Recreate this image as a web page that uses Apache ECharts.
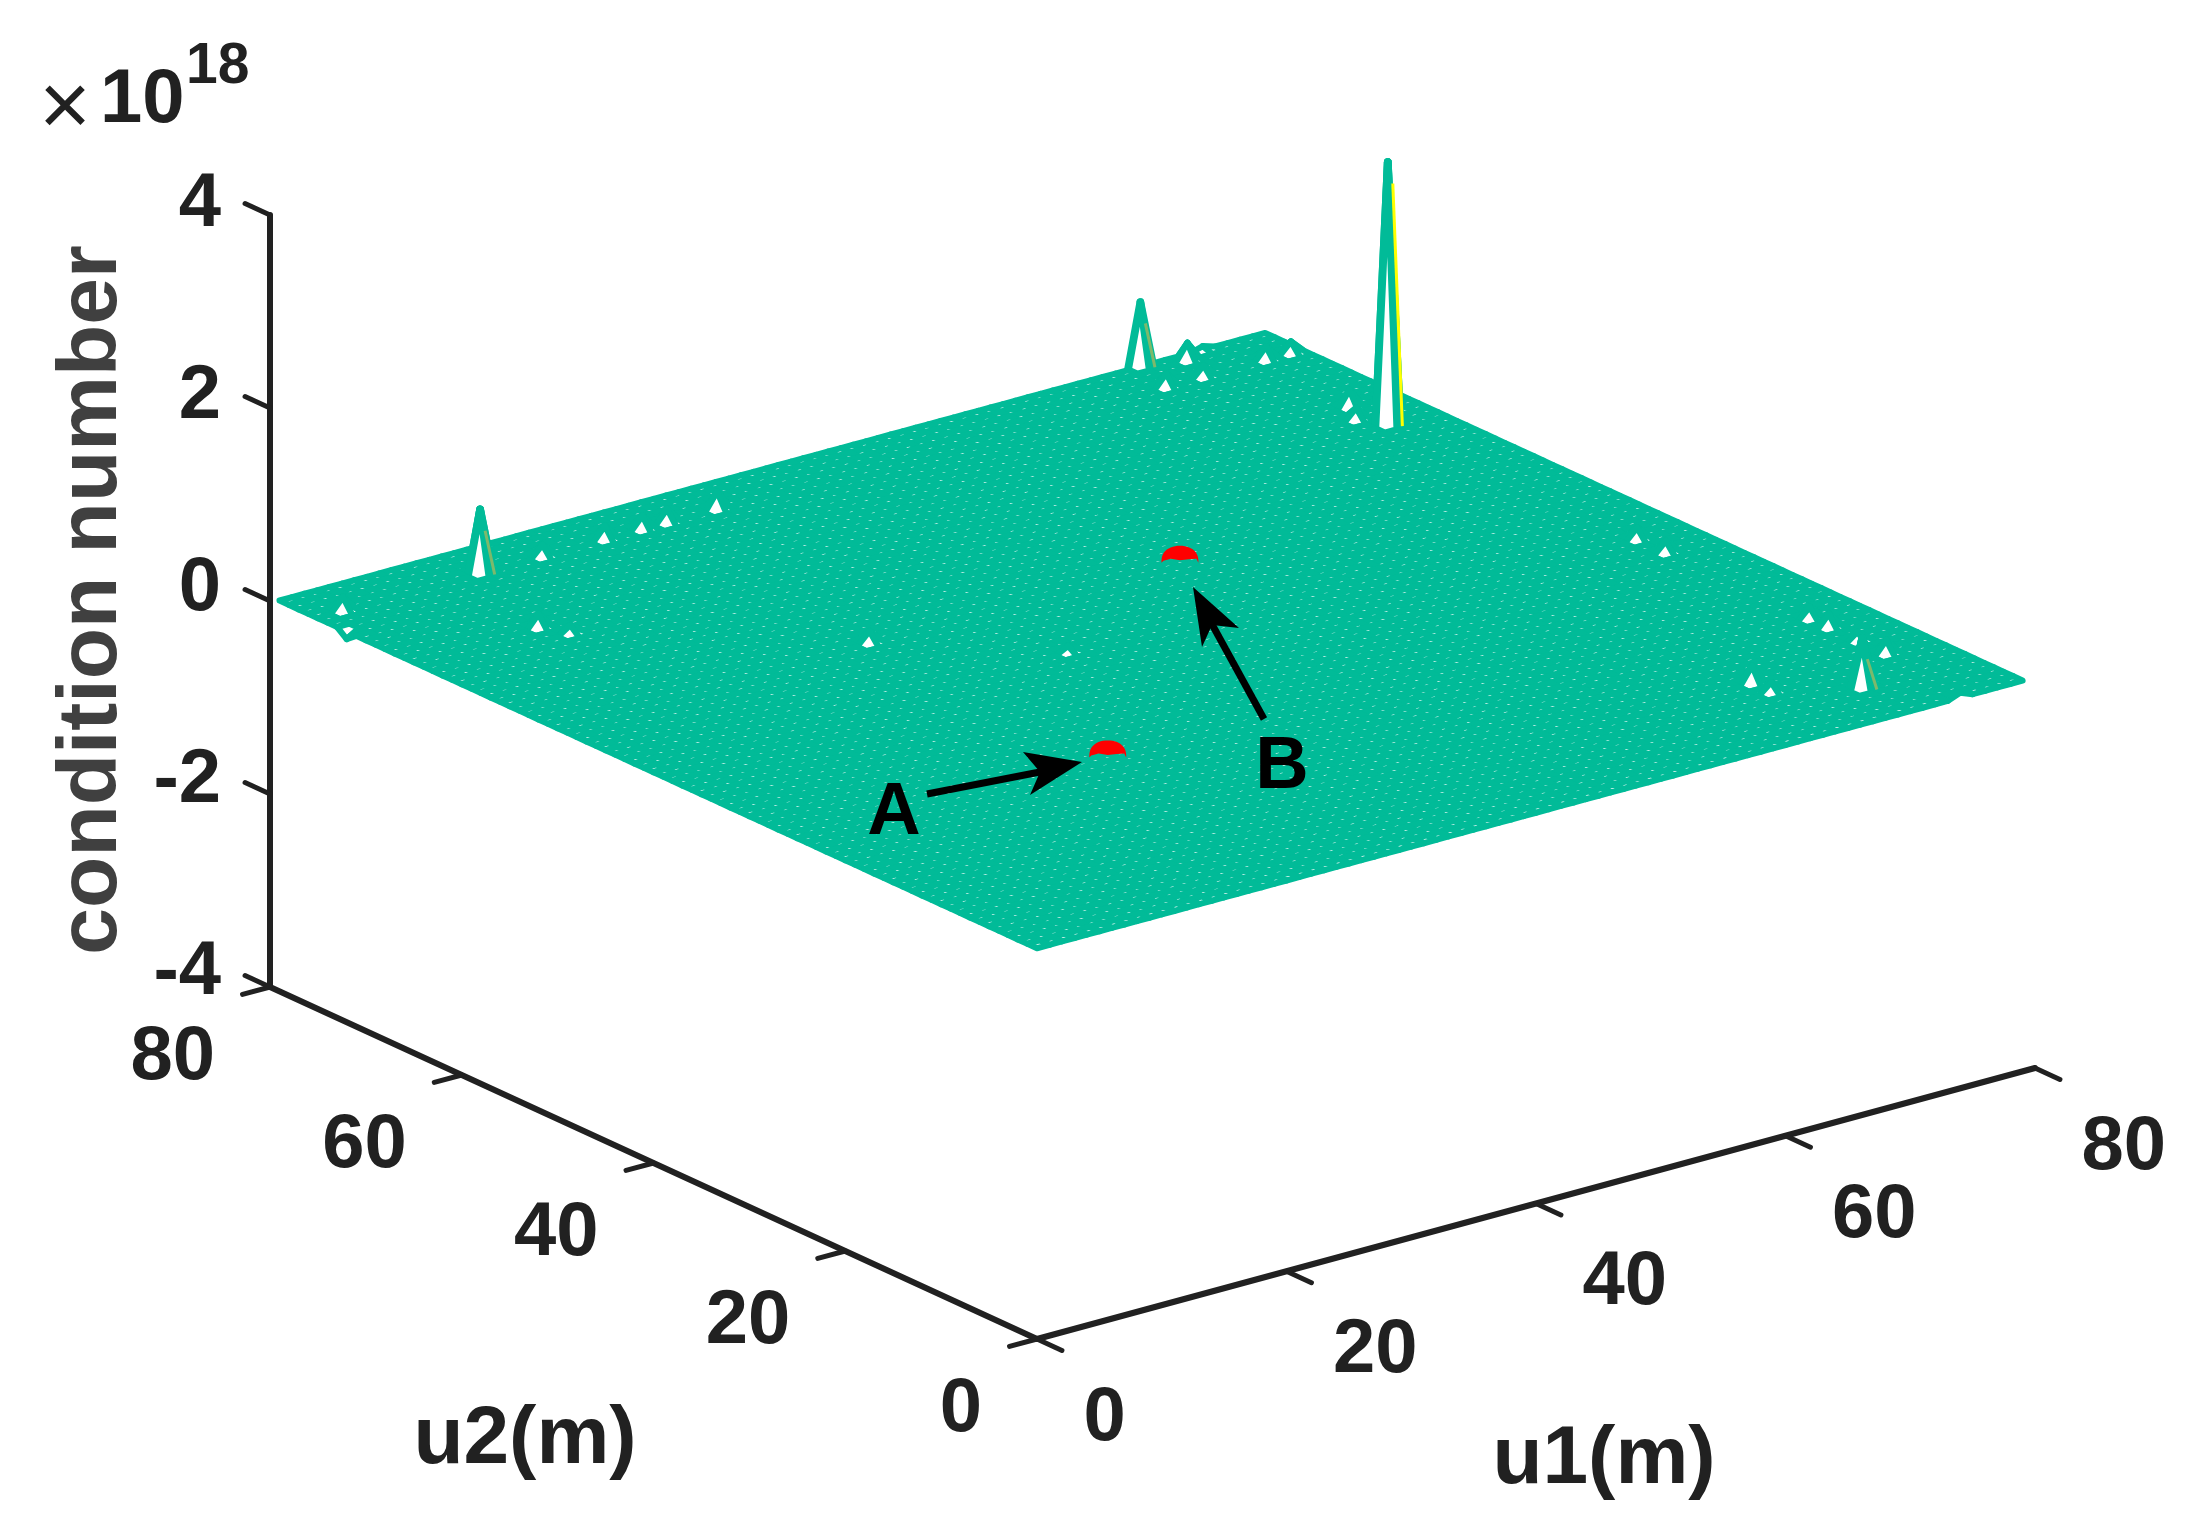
<!DOCTYPE html>
<html><head><meta charset="utf-8">
<style>html,body{margin:0;padding:0;background:#fff}#c{width:2204px;height:1522px}</style>
<script src="https://cdn.jsdelivr.net/npm/echarts@6/dist/echarts.min.js"></script>
</head><body><div id="c"></div>
<script>
// ---- data ----
const u1Ticks = [0, 20, 40, 60, 80];
const u2Ticks = [0, 20, 40, 60, 80];
const zTicks = [-4, -2, 0, 2, 4];
const meshMax = 79;            // mesh vertices at 0..79 in both directions
const surfaceLevel = 0.05;     // flat level of the surface (x 10^18)
// tall spikes: [u1, u2, z]
const spikes = [[75, 61, 2.78], [69, 79, 0.72], [13, 75, 0.72], [70, 5, 0.58]];
// small ripples that open larger gaps in the mesh: [u1, u2, z]
const ripples = [
  [72,78,.24],[68,75,.2],[71,75,.18],[76,75,.2],[78,75,.18],
  [18,75,.18],[23,75,.2],[26,75,.2],[28,75,.2],[32,75,.24],[2,75,.2],
  [75,65,.24],[74,63,.18],[75,35,.18],[75,32,.18],[75,17,.18],[75,15,.2],[75,12,.15],[75,9,.2],
  [10,65,.2],[11,63,.14],[65,10,.24],[65,8,.16],[25,50,.18],[34,41,.12],
  [0,72,-.03],[74,0,.1],[74,79,.09]
];
// red caps A and B: [u1, u2]
const markedPoints = [[24.5, 24.5], [49.5, 49.5]];
// coloured edges on spikes, by spike
const spikeEdgeColors = ['#FFFF00', '#7DB96B', '#7DB96B', '#7DB96B'];
const labels = ['A', 'B'];

// ---- view projection (MATLAB 3-D view) ----
const P = {x0:1037, y0:1339, ux:12.475, uy:-3.3875, vx:-9.5875, vy:-4.4, zy:-96.5, zmin:-4};
function proj(u, v, z){
  return [P.x0 + P.ux*u + P.vx*v, P.y0 + P.uy*u + P.vy*v + P.zy*(z - P.zmin)];
}
const TEAL = '#01BB98', INK = '#212121', MESH_W = 6.15, SPIKE_W = 7.8;
const zAt = {}, isSpike = {};
ripples.concat(spikes).forEach(p => { zAt[p[0]+'_'+p[1]] = p[2]; });
spikes.forEach(p => { isSpike[p[0]+'_'+p[1]] = true; });
const zv = (u,v) => { const k=u+'_'+v; return k in zAt ? zAt[k] : surfaceLevel; };

const cells = [];
for (let u = meshMax-1; u >= 0; u--) for (let v = meshMax-1; v >= 0; v--) cells.push([u, v]);

const TICK_FONT = 'bold 76px "Liberation Sans", Arial, sans-serif';
const chart = echarts.init(document.getElementById('c'), null, {renderer:'canvas'});
const lineEl = (api, a, b, w) => ({type:'line', silent:true,
  shape:{x1:api.coord(a)[0], y1:api.coord(a)[1], x2:api.coord(b)[0], y2:api.coord(b)[1]},
  style:{stroke:INK, lineWidth:w, lineCap:'round'}});

function frame(params, api){
  const kids = [];
  kids.push(lineEl(api, proj(0,0,-4), proj(80,0,-4), 6));
  kids.push(lineEl(api, proj(0,0,-4), proj(0,80,-4), 6));
  kids.push(lineEl(api, proj(0,80,-4), proj(0,80,4), 6));
  u1Ticks.forEach(u => {
    kids.push(lineEl(api, proj(u,0,-4), proj(u,-2.6,-4), 5));
    const c = api.coord(proj(u,0,-4));
    kids.push({type:'text', silent:true, style:{text:String(u), x:c[0]+46.5, y:c[1]+80, align:'left', verticalAlign:'middle', font:TICK_FONT, fill:INK}});
  });
  u2Ticks.forEach(v => {
    kids.push(lineEl(api, proj(0,v,-4), proj(-2.2,v,-4), 5));
    const c = api.coord(proj(0,v,-4));
    kids.push({type:'text', silent:true, style:{text:String(v), x:c[0]-55, y:c[1]+71, align:'right', verticalAlign:'middle', font:TICK_FONT, fill:INK}});
  });
  zTicks.forEach(z => {
    kids.push(lineEl(api, proj(0,80,z), proj(0,82.6,z), 5));
    const c = api.coord(proj(0,80,z));
    kids.push({type:'text', silent:true, style:{text:String(z), x:c[0]-49, y:c[1]-12+z*0.5, align:'right', verticalAlign:'middle', font:TICK_FONT, fill:INK}});
  });
  return {type:'group', children:kids};
}
function cell(params, api){
  const u = api.value(0), v = api.value(1);
  const corners = [[u,v],[u+1,v],[u+1,v+1],[u,v+1]];
  const q = corners.map(c => api.coord(proj(c[0],c[1],zv(c[0],c[1]))));
  const wide = corners.some(c => isSpike[c[0]+'_'+c[1]]);
  return {type:'polygon', silent:true, shape:{points:q},
    style:{fill:'#fff', stroke:TEAL, lineWidth:wide ? SPIKE_W : MESH_W, lineJoin:'round'}};
}
function spikeEdge(params, api){
  const i = params.dataIndex, s = spikes[i];
  const a = api.coord(proj(s[0],s[1],s[2]-0.22)), b = api.coord(proj(s[0],s[1]-1,surfaceLevel));
  return {type:'line', silent:true, shape:{x1:a[0]+5, y1:a[1], x2:b[0]+5, y2:b[1]-4},
    style:{stroke:spikeEdgeColors[i], lineWidth:3}};
}
function cap(params, api){
  const u = api.value(0), v = api.value(1);
  const c = api.coord(proj(u,v,surfaceLevel));
  const W = 18.5, H = 17, poly = [];
  for (let k = 0; k <= 24; k++){ const th = Math.PI*(1-k/24);
    poly.push([c[0]+W*Math.cos(th), c[1]-H*Math.pow(Math.sin(th),0.75)]); }
  poly.push([c[0]+W-2,c[1]-4],[c[0]+9,c[1]-3.5],[c[0],c[1]-2.5],[c[0]-9,c[1]-4],[c[0]-W+2,c[1]-2]);
  return {type:'polygon', silent:true, shape:{points:poly}, style:{fill:'#FF0000'}};
}

chart.setOption({
  animation:false,
  backgroundColor:'#fff',
  grid:{left:0, right:0, top:0, bottom:0},
  xAxis:{type:'value', min:0, max:2204, show:false},
  yAxis:{type:'value', min:0, max:1522, inverse:true, show:false},
  series:[
    {type:'custom', name:'frame', coordinateSystem:'cartesian2d', data:[[0,0]], renderItem:frame, clip:false, z:1, silent:true, encode:{x:0,y:1}},
    {type:'custom', name:'surface', coordinateSystem:'cartesian2d', data:cells, renderItem:cell, clip:false, z:2, silent:true, progressive:0, encode:{x:0,y:1}},
    {type:'custom', name:'spike edges', coordinateSystem:'cartesian2d', data:spikes.map(s=>[s[0],s[1]]), renderItem:spikeEdge, clip:false, z:3, silent:true, encode:{x:0,y:1}},
    {type:'custom', name:'marked', coordinateSystem:'cartesian2d', data:markedPoints, renderItem:cap, clip:false, z:4, silent:true, encode:{x:0,y:1}}
  ],
  graphic:{elements:[
    {type:'text', x:65, y:110, z:10, style:{text:'×', font:'89px "Liberation Sans", Arial, sans-serif', fill:INK, align:'center', verticalAlign:'middle'}},
    {type:'text', x:100, y:101, z:10, style:{text:'10', font:TICK_FONT, fill:INK, verticalAlign:'middle'}},
    {type:'text', x:186, y:67.5, z:10, style:{text:'18', font:'bold 57px "Liberation Sans", Arial, sans-serif', fill:INK, verticalAlign:'middle'}},
    {type:'text', x:93, y:600, rotation:Math.PI/2, z:10, style:{text:'condition number', font:'bold 84px "Liberation Sans", Arial, sans-serif', fill:'#404040', align:'center', verticalAlign:'middle'}},
    {type:'text', x:525, y:1440, z:10, style:{text:'u2(m)', font:'bold 82px "Liberation Sans", Arial, sans-serif', fill:INK, align:'center', verticalAlign:'middle'}},
    {type:'text', x:1604, y:1460, z:10, style:{text:'u1(m)', font:'bold 82px "Liberation Sans", Arial, sans-serif', fill:INK, align:'center', verticalAlign:'middle'}},
    {type:'text', x:894, y:814, z:10, style:{text:labels[0], font:'bold 74px "Liberation Sans", Arial, sans-serif', fill:'#000', align:'center', verticalAlign:'middle'}},
    {type:'text', x:1282, y:768, z:10, style:{text:labels[1], font:'bold 74px "Liberation Sans", Arial, sans-serif', fill:'#000', align:'center', verticalAlign:'middle'}},
    {type:'line', z:10, shape:{x1:927,y1:794,x2:1045,y2:771}, style:{stroke:'#000', lineWidth:7}},
    {type:'polygon', z:10, shape:{points:[[1082,762],[1023,752],[1040,772],[1030,795]]}, style:{fill:'#000'}},
    {type:'line', z:10, shape:{x1:1264,y1:719,x2:1208,y2:617}, style:{stroke:'#000', lineWidth:7}},
    {type:'polygon', z:10, shape:{points:[[1193,587],[1239,628],[1212,625],[1202,647]]}, style:{fill:'#000'}}
  ]}
});
</script></body></html>
